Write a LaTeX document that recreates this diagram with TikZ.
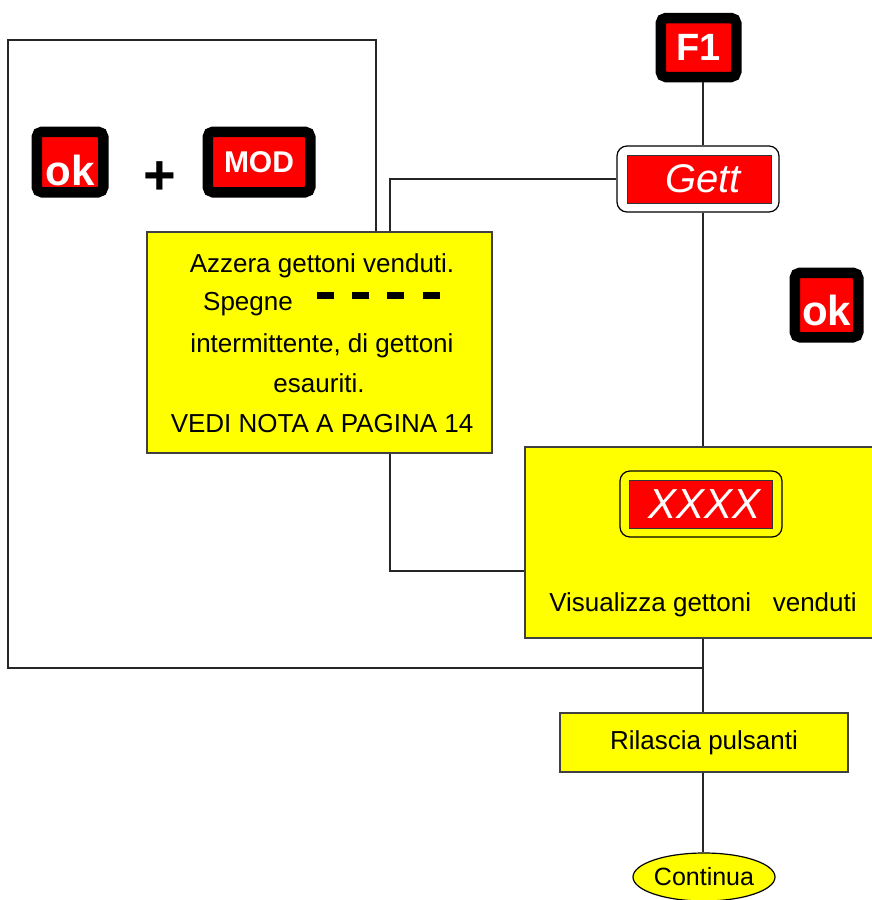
\documentclass[tikz,border=0pt]{standalone}
\usepackage{fontspec}
\setmainfont{Liberation Sans}
\usetikzlibrary{shapes.geometric}

\definecolor{panelyellow}{RGB}{255,255,0}
\definecolor{keyred}{RGB}{255,0,0}

\tikzset{
  key/.style={draw=black, fill=keyred, line width=10.5pt, rounded corners=5.25pt, inner sep=0pt,
    text=white, font=\fontsize{38}{38}\selectfont\bfseries},
  keylabel/.style={inner sep=0pt, text=white, font=\fontsize{42}{42}\selectfont\bfseries},
  display/.style={draw=black!80, fill=keyred, line width=1pt, inner sep=0pt,
    text=white, font=\fontsize{40}{40}\selectfont\itshape},
  dispframe/.style={draw=black, line width=1.2pt, rounded corners=10pt, inner sep=0pt},
  panel/.style={draw=black!75, fill=panelyellow, line width=1.2pt, inner sep=0pt},
  msg/.style={inner sep=0pt, font=\fontsize{26}{26}\selectfont},
  link/.style={line width=1.2pt, draw=black!85},
}

\begin{document}
\begin{tikzpicture}[x=1pt, y=-1pt]
  \useasboundingbox (0,0) rectangle (872,900);
  \coordinate (spine) at (703,0);
  \coordinate (sideA) at (390,571);
  \coordinate (loopTR) at (376,40);
  \coordinate (loopTL) at (8,40);
  \coordinate (loopBL) at (8,668);

  % tasti
  \node[key, minimum width=75.5pt, minimum height=59pt] (F1) at (698.5,47.5) {F1};
  \node[key, minimum width=66.5pt, minimum height=60.5pt] (okA) at (70,162) {};
  \node[keylabel, anchor=base] (okAlab) at (70,185) {ok};
  \node[font=\fontsize{56}{56}\selectfont\bfseries, inner sep=0pt] (plus) at (160,178) {+};
  \node[key, minimum width=102.5pt, minimum height=60.5pt,
        font=\fontsize{30}{30}\selectfont\bfseries] (MOD) at (259,162) {MOD};
  \node[key, minimum width=63.5pt, minimum height=64.5pt] (okB) at (826.5,305) {};
  \node[keylabel, anchor=base] (okBlab) at (826.5,325) {ok};

  % display Gett
  \node[dispframe, fill=white, minimum width=162pt, minimum height=66pt] (gettframe) at (698,179) {};
  \node[display, minimum width=144pt, minimum height=48pt] (gett) at (699,179) {\hspace*{8pt}Gett};

  % riquadro azzeramento
  \node[panel, minimum width=345pt, minimum height=221pt] (box1) at (319.5,342.5) {};
  \node[msg, anchor=base] (l1) at (322,272) {Azzera gettoni venduti.};
  \node[msg, anchor=base west] (l2) at (203,310) {Spegne};
  \foreach \x in {317,352,387,423}
    \fill (\x,292) rectangle ++(17,7);
  \node[msg, anchor=base] (l3) at (322,352) {intermittente, di gettoni};
  \node[msg, anchor=base] (l4) at (319,392) {esauriti.};
  \node[msg, anchor=base] (l5) at (322,432) {VEDI NOTA A PAGINA 14};

  % riquadro visualizzazione
  \node[panel, minimum width=348pt, minimum height=191pt] (box2) at (699,542.5) {};
  \node[dispframe, fill=panelyellow, minimum width=162pt, minimum height=66pt] (xframe) at (701,504) {};
  \node[display, minimum width=143pt, minimum height=48pt,
        font=\fontsize{42}{42}\selectfont\itshape] (xxxx) at (700.5,504) {\hspace*{8pt}XXXX};
  \node[msg, anchor=base] (l6) at (703,611) {Visualizza gettoni~~ venduti};

  \node[panel, minimum width=288pt, minimum height=59pt] (rilascia) at (704,742.5)
    {\fontsize{26}{26}\selectfont Rilascia pulsanti};
  \node[panel, draw=black, ellipse, minimum width=142pt, minimum height=48pt] (cont) at (704,877)
    {\fontsize{25}{25}\selectfont Continua};

  % collegamenti
  \draw[link] (F1.south -| spine) -- (gettframe.north -| spine);
  \draw[link] (gettframe.south -| spine) -- (box2.north -| spine);
  \draw[link] (box2.south -| spine) -- (rilascia.north -| spine);
  \draw[link] (rilascia.south -| spine) -- (cont.north -| spine);
  \draw[link] (gettframe.west) -| (box1.north -| sideA);
  \draw[link] (box1.south -| sideA) |- (box2.west |- sideA);
  \draw[link] (box1.north -| loopTR) -- (loopTR) -- (loopTL) -- (loopBL) -- (loopBL -| spine);
\end{tikzpicture}
\end{document}
